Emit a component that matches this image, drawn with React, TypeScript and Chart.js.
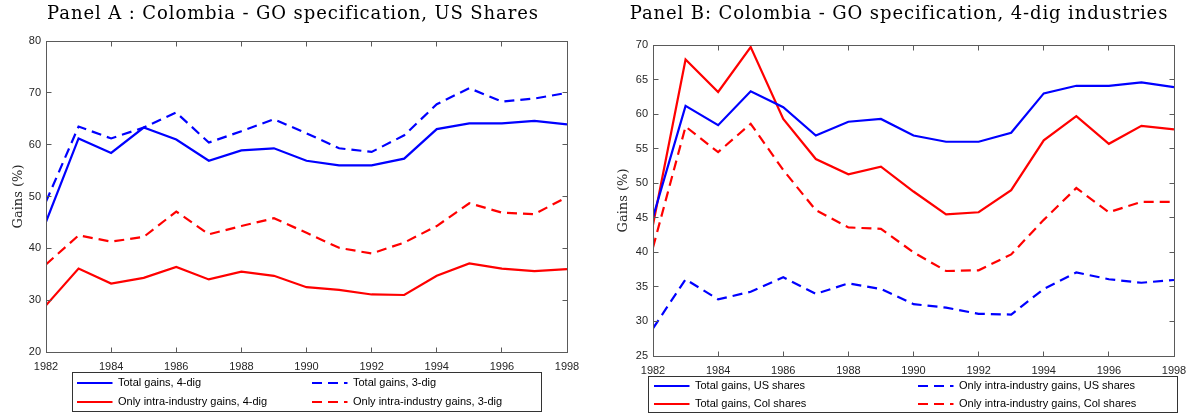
import { useEffect, useRef } from "react";
import { Chart, registerables } from "chart.js";

Chart.register(...registerables);

// ---- data ----
const years = [1982, 1983, 1984, 1985, 1986, 1987, 1988, 1989, 1990, 1991, 1992, 1993, 1994, 1995, 1996, 1997, 1998];

// Panel A: US shares, 4-digit vs 3-digit industries
const totalGains4dig = [45.1, 61.2, 58.4, 63.3, 61.0, 56.9, 58.9, 59.3, 56.9, 56.0, 56.0, 57.3, 63.0, 64.1, 64.1, 64.6, 63.9];
const totalGains3dig = [49.0, 63.5, 61.2, 63.3, 66.2, 60.4, 62.6, 64.9, 62.2, 59.3, 58.6, 61.8, 67.8, 70.9, 68.3, 68.9, 70.0];
const intraGains4dig = [29.0, 36.1, 33.2, 34.3, 36.4, 34.0, 35.5, 34.7, 32.5, 32.0, 31.1, 31.0, 34.7, 37.1, 36.1, 35.6, 36.0];
const intraGains3dig = [36.9, 42.5, 41.3, 42.2, 47.1, 42.7, 44.3, 45.8, 43.0, 40.1, 39.0, 41.1, 44.3, 48.7, 46.9, 46.6, 49.9];

// Panel B: 4-digit industries, US vs Colombian shares
const totalGainsUS = [45.1, 61.2, 58.4, 63.3, 61.0, 56.9, 58.9, 59.3, 56.9, 56.0, 56.0, 57.3, 63.0, 64.1, 64.1, 64.6, 63.9];
const intraGainsUS = [29.0, 36.1, 33.2, 34.3, 36.4, 34.0, 35.5, 34.7, 32.5, 32.0, 31.1, 31.0, 34.7, 37.1, 36.1, 35.6, 36.0];
const totalGainsCol = [44.0, 67.9, 63.2, 69.7, 59.3, 53.5, 51.3, 52.4, 48.8, 45.5, 45.8, 49.0, 56.2, 59.7, 55.7, 58.3, 57.8];
const intraGainsCol = [40.7, 58.2, 54.5, 58.6, 51.9, 46.1, 43.6, 43.4, 40.0, 37.3, 37.4, 39.7, 44.7, 49.3, 45.8, 47.3, 47.3];

const titleA = "Panel A : Colombia - GO specification, US Shares";
const titleB = "Panel B: Colombia - GO specification, 4-dig industries";
const yTitle = "Gains (%)";

// ---- styling ----
const BLUE = "#0000ff";
const RED = "#ff0000";
const DASH = [10, 6];
const LINE_W = 2.2;
const TICK_FONT = { family: "'Liberation Sans', Arial, sans-serif", size: 11 };
const TICK_COLOR = "#262626";

type Series = { label: string; values: number[]; color: string; dashed: boolean };

type PanelSpec = {
  left: number;
  width: number;
  yMin: number;
  yMax: number;
  yStep: number;
  yAxisWidth: number;
  yTitlePad: number;
  padding: { top: number; right: number; bottom: number };
  legend: { box: number[]; cols: number[]; rows: number[] };
  series: Series[];
};

// Box around the plot area with inward ticks on all four sides
const axisFrame = {
  id: "axisFrame",
  afterDatasetsDraw(chart: any) {
    const { ctx, chartArea: a, scales } = chart;
    const L = Math.floor(a.left) + 0.5;
    const R = Math.floor(a.right) + 0.5;
    const T = Math.floor(a.top) + 0.5;
    const B = Math.floor(a.bottom) + 0.5;
    const len = 5;
    ctx.save();
    ctx.strokeStyle = "#5a5a5a";
    ctx.lineWidth = 1;
    ctx.setLineDash([]);
    ctx.strokeRect(L, T, R - L, B - T);
    ctx.beginPath();
    scales.x.ticks.forEach((t: any) => {
      const px = Math.floor(scales.x.getPixelForValue(t.value)) + 0.5;
      ctx.moveTo(px, B);
      ctx.lineTo(px, B - len);
      ctx.moveTo(px, T);
      ctx.lineTo(px, T + len);
    });
    scales.y.ticks.forEach((t: any) => {
      const py = Math.floor(scales.y.getPixelForValue(t.value)) + 0.5;
      ctx.moveTo(L, py);
      ctx.lineTo(L + len, py);
      ctx.moveTo(R, py);
      ctx.lineTo(R - len, py);
    });
    ctx.stroke();
    ctx.restore();
  },
};

// Two-column legend inside a framed box below the axes
const boxLegend = {
  id: "boxLegend",
  afterDraw(chart: any, _args: any, o: any) {
    const ctx = chart.ctx;
    const [bx, by, bw, bh] = o.box;
    ctx.save();
    ctx.strokeStyle = "#333333";
    ctx.lineWidth = 1;
    ctx.setLineDash([]);
    ctx.strokeRect(bx + 0.5, by + 0.5, bw, bh);
    chart.data.datasets.forEach((ds: any, i: number) => {
      const x = o.cols[i % 2];
      const y = o.rows[Math.floor(i / 2)];
      ctx.beginPath();
      ctx.setLineDash(ds.borderDash || []);
      ctx.strokeStyle = ds.borderColor;
      ctx.lineWidth = ds.borderWidth;
      ctx.moveTo(x, y);
      ctx.lineTo(x + 35.5, y);
      ctx.stroke();
      ctx.setLineDash([]);
      ctx.fillStyle = "#000000";
      ctx.font = "11px 'Liberation Sans', Arial, sans-serif";
      ctx.textAlign = "left";
      ctx.textBaseline = "middle";
      ctx.fillText(ds.label, x + 41, y);
    });
    ctx.restore();
  },
};

function buildConfig(p: PanelSpec): any {
  return {
    type: "line",
    data: {
      datasets: p.series.map((s) => ({
        label: s.label,
        data: s.values.map((v, i) => ({ x: years[i], y: v })),
        borderColor: s.color,
        backgroundColor: s.color,
        borderWidth: LINE_W,
        borderDash: s.dashed ? DASH : [],
        pointRadius: 0,
        tension: 0,
        fill: false,
      })),
    },
    options: {
      animation: false,
      responsive: false,
      devicePixelRatio: 1,
      layout: { padding: { left: 0, top: p.padding.top, right: p.padding.right, bottom: p.padding.bottom } },
      plugins: {
        legend: { display: false },
        title: { display: false },
        tooltip: { enabled: false },
        boxLegend: p.legend,
      },
      scales: {
        x: {
          type: "linear",
          min: 1982,
          max: 1998,
          grid: { display: false, drawTicks: false },
          border: { display: false },
          ticks: {
            stepSize: 2,
            autoSkip: false,
            maxRotation: 0,
            padding: 8,
            font: TICK_FONT,
            color: TICK_COLOR,
            callback: (v: number) => String(v),
          },
          afterFit: (s: any) => {
            s.height = 20;
          },
        },
        y: {
          type: "linear",
          min: p.yMin,
          max: p.yMax,
          grid: { display: false, drawTicks: false },
          border: { display: false },
          ticks: {
            stepSize: p.yStep,
            padding: 5,
            font: TICK_FONT,
            color: TICK_COLOR,
            callback: (v: number) => String(v),
          },
          title: {
            display: true,
            text: yTitle,
            color: TICK_COLOR,
            font: { family: "'DejaVu Serif', serif", size: 13 },
            padding: { top: p.yTitlePad, bottom: 0 },
          },
          afterFit: (s: any) => {
            s.width = p.yAxisWidth;
          },
        },
      },
    },
    plugins: [axisFrame, boxLegend],
  };
}

const panelA: PanelSpec = {
  left: 0,
  width: 600,
  yMin: 20,
  yMax: 80,
  yStep: 10,
  yAxisWidth: 46,
  yTitlePad: 11,
  padding: { top: 41, right: 33, bottom: 45 },
  legend: { box: [72, 372, 469, 39], cols: [77, 312], rows: [383, 402] },
  series: [
    { label: "Total gains, 4-dig", values: totalGains4dig, color: BLUE, dashed: false },
    { label: "Total gains, 3-dig", values: totalGains3dig, color: BLUE, dashed: true },
    { label: "Only intra-industry gains, 4-dig", values: intraGains4dig, color: RED, dashed: false },
    { label: "Only intra-industry gains, 3-dig", values: intraGains3dig, color: RED, dashed: true },
  ],
};

const panelB: PanelSpec = {
  left: 600,
  width: 602,
  yMin: 25,
  yMax: 70,
  yStep: 5,
  yAxisWidth: 53,
  yTitlePad: 16,
  padding: { top: 45, right: 28, bottom: 41 },
  legend: { box: [48, 376, 529, 36], cols: [54, 318], rows: [386, 404] },
  series: [
    { label: "Total gains, US shares", values: totalGainsUS, color: BLUE, dashed: false },
    { label: "Only intra-industry gains, US shares", values: intraGainsUS, color: BLUE, dashed: true },
    { label: "Total gains, Col shares", values: totalGainsCol, color: RED, dashed: false },
    { label: "Only intra-industry gains, Col shares", values: intraGainsCol, color: RED, dashed: true },
  ],
};

function Panel({ spec }: { spec: PanelSpec }) {
  const ref = useRef<HTMLCanvasElement>(null);
  useEffect(() => {
    const chart = new Chart(ref.current as HTMLCanvasElement, buildConfig(spec));
    return () => chart.destroy();
  }, [spec]);
  return (
    <canvas
      ref={ref}
      width={spec.width}
      height={417}
      style={{ position: "absolute", left: spec.left, top: 0, width: spec.width, height: 417 }}
    />
  );
}

const titleStyle = (center: number): any => ({
  position: "absolute",
  left: center,
  top: 1,
  transform: "translateX(-50%)",
  whiteSpace: "nowrap",
  fontFamily: "'DejaVu Serif', serif",
  fontSize: 18,
  lineHeight: "24px",
  letterSpacing: "0.9px",
  color: "#000",
});

export default function App() {
  return (
    <div style={{ position: "absolute", left: 0, top: 0, width: 1202, height: 417, background: "#fff", overflow: "hidden" }}>
      <Panel spec={panelA} />
      <Panel spec={panelB} />
      <div style={titleStyle(293)}>{titleA}</div>
      <div style={titleStyle(899)}>{titleB}</div>
    </div>
  );
}
